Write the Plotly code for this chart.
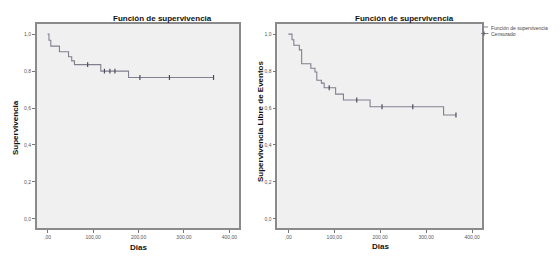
import plotly.graph_objects as go

W, H = 560, 258

# ---- data ----
left_event_times = [0, 3, 7, 26, 46, 53, 59, 117, 178]
left_surv = [1.0, 0.967, 0.935, 0.905, 0.878, 0.855, 0.835, 0.80, 0.765]
left_censor_times = [88, 125, 137, 148, 203, 268, 365]

right_event_times = [0, 8, 12, 24, 29, 49, 58, 62, 72, 78, 103, 120, 178, 338]
right_surv = [1.0, 0.97, 0.94, 0.915, 0.84, 0.815, 0.795, 0.75, 0.735, 0.71,
              0.675, 0.643, 0.607, 0.562]
right_censor_times = [89, 149, 204, 271, 365]

x_tickvals = [0, 100, 200, 300, 400]
x_ticktext = [",00", "100,00", "200,00", "300,00", "400,00"]
y_tickvals = [0, 0.2, 0.4, 0.6, 0.8, 1.0]
y_ticktext = ["0,0", "0,2", "0,4", "0,6", "0,8", "1,0"]

title_text = "Función de supervivencia"
left_ytitle = "Supervivencia"
right_ytitle = "Supervivencia Libre de Eventos"
xtitle = "Dias"
legend_labels = ["Función de supervivencia", "Censurado"]

CURVE = "#80808f"
FONT = "Liberation Sans, Arial, sans-serif"


def surv_at(times, surv, t):
    s = surv[0]
    for ti, si in zip(times, surv):
        if ti <= t:
            s = si
    return s


def px_x(p):
    return p / W


def px_y(p):
    return 1 - p / H


fig = go.Figure()

for idx, (et, sv, ct) in enumerate([
        (left_event_times, left_surv, left_censor_times),
        (right_event_times, right_surv, right_censor_times)]):
    xa = "x" if idx == 0 else "x2"
    ya = "y" if idx == 0 else "y2"
    end_t = max(ct[-1], et[-1])
    xs = list(et) + [end_t]
    ys = list(sv) + [sv[-1]]
    fig.add_trace(go.Scatter(x=xs, y=ys, mode="lines", line_shape="hv",
                             line=dict(color=CURVE, width=1.1),
                             xaxis=xa, yaxis=ya, showlegend=False,
                             hoverinfo="skip"))
    cy = [surv_at(et, sv, t) for t in ct]
    fig.add_trace(go.Scatter(x=ct, y=cy, mode="markers",
                             marker=dict(symbol="line-ns", size=3.5,
                                         line=dict(color="#4c4c5c", width=1.2)),
                             xaxis=xa, yaxis=ya, showlegend=False,
                             hoverinfo="skip"))

axis_common = dict(showgrid=False, zeroline=False, showline=True, mirror=True,
                   automargin=False,
                   linecolor="#8a8a8a", linewidth=1.5, ticks="outside",
                   ticklen=3, tickwidth=1, tickcolor="#777777",
                   tickfont=dict(family=FONT, size=5, color="#555555"))

ydom = [px_y(228), px_y(24)]
fig.update_layout(
    template="none",
    width=W, height=H,
    margin=dict(l=0, r=0, t=0, b=0, pad=0),
    paper_bgcolor="white",
    plot_bgcolor="#f0f0f0",
    xaxis=dict(domain=[px_x(36.7), px_x(239)], range=[-24, 421],
               tickvals=x_tickvals, ticktext=x_ticktext, anchor="y", **axis_common),
    yaxis=dict(domain=ydom, range=[-0.05, 1.055],
               tickvals=y_tickvals, ticktext=y_ticktext, anchor="x", **axis_common),
    xaxis2=dict(domain=[px_x(277.3), px_x(481.7)], range=[-24, 421],
                tickvals=x_tickvals, ticktext=x_ticktext, anchor="y2", **axis_common),
    yaxis2=dict(domain=ydom, range=[-0.05, 1.055],
                tickvals=y_tickvals, ticktext=y_ticktext, anchor="x2", **axis_common),
)

ann = []
bold = dict(family=FONT, size=8, color="#111111")
ann.append(dict(text="<b>%s</b>" % title_text, x=px_x(162), y=px_y(18.5),
                xref="paper", yref="paper", showarrow=False, font=bold,
                xanchor="center", yanchor="middle"))
ann.append(dict(text="<b>%s</b>" % title_text, x=px_x(404), y=px_y(18.5),
                xref="paper", yref="paper", showarrow=False, font=bold,
                xanchor="center", yanchor="middle"))
ann.append(dict(text="<b>%s</b>" % xtitle, x=px_x(138), y=px_y(247.5),
                xref="paper", yref="paper", showarrow=False, font=bold,
                xanchor="center", yanchor="middle"))
ann.append(dict(text="<b>%s</b>" % xtitle, x=px_x(380), y=px_y(246.5),
                xref="paper", yref="paper", showarrow=False, font=bold,
                xanchor="center", yanchor="middle"))
ann.append(dict(text="<b>%s</b>" % left_ytitle, x=px_x(15), y=px_y(128),
                xref="paper", yref="paper", showarrow=False, font=bold,
                textangle=-90, xanchor="center", yanchor="middle"))
ann.append(dict(text="<b>%s</b>" % right_ytitle, x=px_x(261), y=px_y(122),
                xref="paper", yref="paper", showarrow=False, font=bold,
                textangle=-90, xanchor="center", yanchor="middle"))
leg_font = dict(family=FONT, size=5, color="#444444")
for i, lab in enumerate(legend_labels):
    ann.append(dict(text=lab, x=px_x(489), y=px_y(28.3 + 5.2 * i),
                    xref="paper", yref="paper", showarrow=False, font=leg_font,
                    xanchor="left", yanchor="middle"))
fig.update_layout(annotations=ann)

shapes = [
    # legend icon: step line
    dict(type="path", xref="paper", yref="paper",
         path="M %f %f L %f %f L %f %f" % (px_x(482.5), px_y(30.5), px_x(482.5), px_y(27),
                                          px_x(488), px_y(27)),
         line=dict(color=CURVE, width=1)),
    # legend icon: censor mark
    dict(type="line", xref="paper", yref="paper", x0=px_x(481), x1=px_x(488.5),
         y0=px_y(33.5), y1=px_y(33.5), line=dict(color=CURVE, width=1)),
    dict(type="line", xref="paper", yref="paper", x0=px_x(484), x1=px_x(484),
         y0=px_y(31.5), y1=px_y(35.5), line=dict(color="#4c4c5c", width=1)),
]
fig.update_layout(shapes=shapes)

fig.write_html("out.html", config={"displayModeBar": False},
               post_script="document.body.style.margin='0';document.body.style.padding='0';")
